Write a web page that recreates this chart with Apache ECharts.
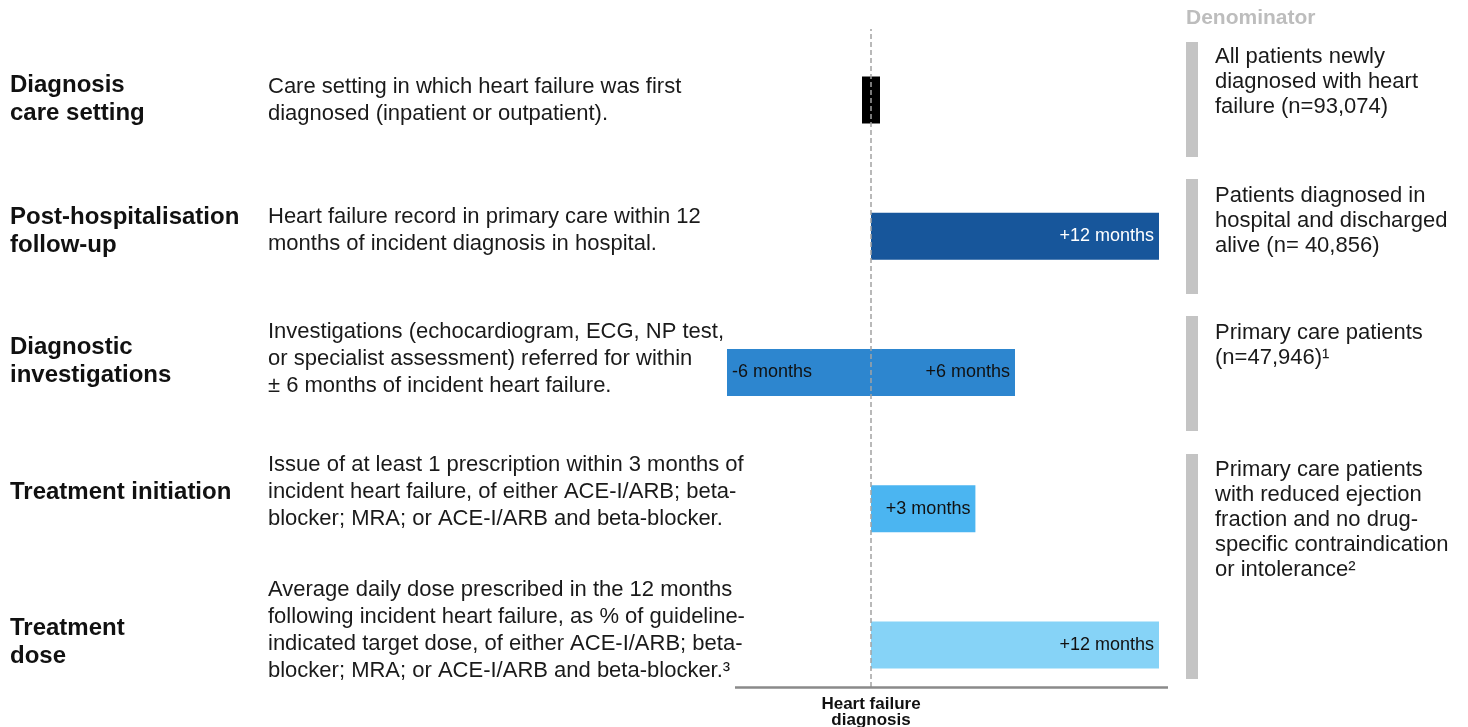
<!DOCTYPE html>
<html>
<head>
<meta charset="utf-8">
<title>Heart failure indicators</title>
<script src="https://cdn.jsdelivr.net/npm/echarts@6.0.0/dist/echarts.min.js"></script>
<style>
  html, body { margin: 0; padding: 0; background: #ffffff; }
  #main { width: 1468px; height: 727px; }
</style>
</head>
<body>
<div id="main"></div>
<script>
// indicator rows (top to bottom)
var categories = [
  'Diagnosis\ncare setting',
  'Post-hospitalisation\nfollow-up',
  'Diagnostic\ninvestigations',
  'Treatment initiation',
  'Treatment\ndose'
];
var descriptions = [
  'Care setting in which heart failure was first\ndiagnosed (inpatient or outpatient).',
  'Heart failure record in primary care within 12\nmonths of incident diagnosis in hospital.',
  'Investigations (echocardiogram, ECG, NP test,\nor specialist assessment) referred for within\n\u00b1 6 months of incident heart failure.',
  'Issue of at least 1 prescription within 3 months of\nincident heart failure, of either ACE-I/ARB; beta-\nblocker; MRA; or ACE-I/ARB and beta-blocker.',
  'Average daily dose prescribed in the 12 months\nfollowing incident heart failure, as % of guideline-\nindicated target dose, of either ACE-I/ARB; beta-\nblocker; MRA; or ACE-I/ARB and beta-blocker.\u00b3'
];
var denominators = [
  'All patients newly\ndiagnosed with heart\nfailure (n=93,074)',
  'Patients diagnosed in\nhospital and discharged\nalive (n= 40,856)',
  'Primary care patients\n(n=47,946)\u00b9',
  'Primary care patients\nwith reduced ejection\nfraction and no drug-\nspecific contraindication\nor intolerance\u00b2'
];
// time window around diagnosis, in months (as drawn)
var windowBefore = [-0.375, null, -6, null, null];
var windowAfter = [0.375, 12, 6, 4.35, 12];
var beforeLabels = ['', '', '-6 months', '', ''];
var afterLabels = ['', '+12 months', '+6 months', '+3 months', '+12 months'];

// styling
var FONT = "'Liberation Sans', Arial, Helvetica, sans-serif";
var barColors = ['#000000', '#17569b', '#2d86cf', '#4bb5f1', '#86d3f7'];
var afterLabelColors = ['#ffffff', '#ffffff', '#111111', '#111111', '#111111'];
var labelTops = [71, 203, 333, 478, 614];
var descTops = [73.5, 203, 318, 451, 576.5];
var denomTops = [44.5, 183.5, 320.5, 457.5];
var bracketSpans = [[42, 157], [179, 294], [316, 431], [454, 679]];

var myChart = echarts.init(document.getElementById('main'));

var graphics = [];
categories.forEach(function (c, i) {
  graphics.push({
    type: 'text', x: 10, y: labelTops[i], silent: true,
    style: { text: c, font: 'bold 24px ' + FONT, lineHeight: 28, fill: '#111111', verticalAlign: 'top' }
  });
});
descriptions.forEach(function (d, i) {
  graphics.push({
    type: 'text', x: 268, y: descTops[i], silent: true,
    style: { text: d, font: '22px ' + FONT, lineHeight: 27, fill: '#1a1a1a', verticalAlign: 'top' }
  });
});
graphics.push({
  type: 'text', x: 1186, y: 8, silent: true,
  style: { text: 'Denominator', font: 'bold 21px ' + FONT, fill: '#bdbdbd', verticalAlign: 'top' }
});
bracketSpans.forEach(function (s) {
  graphics.push({
    type: 'rect', silent: true,
    shape: { x: 1186, y: s[0], width: 12, height: s[1] - s[0] },
    style: { fill: '#c4c4c4' }
  });
});
denominators.forEach(function (d, i) {
  graphics.push({
    type: 'text', x: 1215, y: denomTops[i], silent: true,
    style: { text: d, font: '22px ' + FONT, lineHeight: 25, fill: '#1a1a1a', verticalAlign: 'top' }
  });
});

function barItems(values, labels, pos, labelColors) {
  return values.map(function (v, i) {
    return {
      value: v,
      itemStyle: { color: barColors[i] },
      label: {
        show: !!labels[i], formatter: labels[i], position: pos, distance: 5,
        color: labelColors ? labelColors[i] : '#111111'
      }
    };
  });
}

var labelBase = { fontFamily: FONT, fontSize: 18 };

var option = {
  animation: false,
  backgroundColor: '#ffffff',
  textStyle: { fontFamily: FONT },
  graphic: graphics,
  grid: [
    { left: 727, right: 300, top: 100, bottom: 82 },
    { left: 727, right: 300, top: 29, bottom: 40 }
  ],
  xAxis: [
    { gridIndex: 0, type: 'value', min: -6, max: 12.375, show: false },
    { gridIndex: 1, type: 'value', min: -6, max: 12.375, show: false }
  ],
  yAxis: [
    { gridIndex: 0, type: 'category', data: categories, inverse: true, boundaryGap: false, show: false },
    { gridIndex: 1, type: 'value', min: 0, max: 1, show: false }
  ],
  series: [
    {
      name: 'before', type: 'bar', stack: 'window', barWidth: 47, clip: false,
      xAxisIndex: 0, yAxisIndex: 0,
      label: labelBase,
      data: barItems(windowBefore, beforeLabels, 'insideLeft')
    },
    {
      name: 'after', type: 'bar', stack: 'window', barWidth: 47, clip: false,
      xAxisIndex: 0, yAxisIndex: 0,
      label: labelBase,
      data: barItems(windowAfter, afterLabels, 'insideRight', afterLabelColors)
    },
    {
      name: 'diagnosis', type: 'line', xAxisIndex: 1, yAxisIndex: 1, z: 5,
      data: [[0, 0]], showSymbol: false, symbol: 'none', lineStyle: { opacity: 0 },
      markLine: {
        silent: true, symbol: ['none', 'none'], animation: false,
        data: [
          {
            xAxis: 0,
            lineStyle: { color: '#a3a3a3', width: 1.5, type: [5, 3] },
            label: {
              show: true, position: 'start', distance: 9,
              formatter: 'Heart failure\ndiagnosis',
              fontFamily: FONT, fontWeight: 'bold', fontSize: 17, lineHeight: 16, color: '#111111'
            }
          },
          [
            { coord: [-5.667, 0], lineStyle: { color: '#8a8a8a', width: 2.5, type: 'solid' }, label: { show: false } },
            { coord: [12.375, 0] }
          ]
        ]
      }
    }
  ]
};

myChart.setOption(option);
window.addEventListener('resize', function () {
  myChart.resize();
});
</script>
</body>
</html>
